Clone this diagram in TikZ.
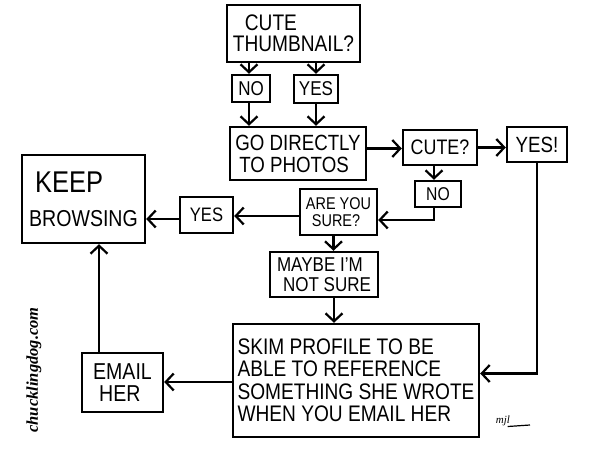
\documentclass[tikz,border=0pt]{standalone}
\usepackage{fontspec}
\setmainfont[FakeStretch=0.85]{Liberation Sans}
\newfontfamily\sigfont{Liberation Serif}
\usetikzlibrary{arrows.meta,calc}
\tikzset{
  box/.style={draw, line width=2.4pt, inner sep=0pt, align=left, anchor=center},
  arr/.style={line width=2.4pt, -{Straight Barb[length=8pt,width=17pt,line width=2.2pt]}}
}
\newcommand{\fs}[2]{\fontsize{#1}{#2}\selectfont}
\begin{document}
\begin{tikzpicture}[x=1pt,y=-1pt]
\useasboundingbox (0,0) rectangle (610,454);
\fill[white] (0,0) rectangle (610,454);
% boxes
\node[box, minimum width=133pt, minimum height=57pt, font=\fs{22.5}{21}] (thumb) at (293.5,33.5) {\hspace*{12pt}CUTE\\THUMBNAIL?};
\node[box, minimum width=38pt, minimum height=27pt, font=\fs{20}{20}] (no1) at (251,88.5) {NO};
\node[box, minimum width=44pt, minimum height=28pt, font=\fs{20}{20}] (yes1) at (316,89) {YES};
\node[box, minimum width=136pt, minimum height=53pt, font=\fs{22}{22}] (go) at (298,153.5) {GO DIRECTLY\\\hspace*{4pt}TO PHOTOS};
\node[box, minimum width=74pt, minimum height=35pt, font=\fs{21}{20}] (cute) at (440,147.5) {CUTE?};
\node[box, minimum width=60pt, minimum height=35pt, font=\fs{22}{20}] (yes2) at (537,144.5) {YES!};
\node[box, minimum width=46pt, minimum height=26pt, font=\fs{18.5}{17}] (no2) at (438,194) {NO};
\node[box, minimum width=77pt, minimum height=46pt, font=\fs{17}{17}] (sure) at (338.5,212) {ARE YOU\\\hspace*{6pt}SURE?};
\node[box, minimum width=53pt, minimum height=36pt, font=\fs{19.5}{18}] (yes3) at (206.5,215) {YES};
\node[box, minimum width=123pt, minimum height=88pt, font=\fs{23}{24}] (keep) at (83.5,199) {\hspace*{6pt}{\fs{30}{28}KEEP}\\[10pt]BROWSING};
\node[box, minimum width=108pt, minimum height=45pt, font=\fs{20}{20}] (maybe) at (324,274.5) {MAYBE I'M\\\hspace*{6pt}NOT SURE};
\node[box, minimum width=246pt, minimum height=113pt, font=\fs{22.5}{22.5}] (skim) at (356,380.5) {SKIM PROFILE TO BE\\ABLE TO REFERENCE\\SOMETHING SHE WROTE\\WHEN YOU EMAIL HER};
\node[box, minimum width=81pt, minimum height=59pt, font=\fs{23}{22}] (email) at (122.5,382.5) {EMAIL\\\hspace*{6pt}HER};
% side texts
\node[rotate=90] (site) at (34,370) {\sigfont\itshape\bfseries\fs{16.5}{16}chucklingdog.com};
\node (sig) at (503,421) {\sigfont\itshape\fs{11}{11}mjl};
\coordinate (sigend) at (530,425);
\draw[line width=1.2pt] ($(sig.south east)+(-6,-3)$) -- (sigend);
% helper coordinates
\coordinate (up) at (99,0);
\coordinate (sureIn) at ($(sure.east)+(0,8)$);
\coordinate (skimIn) at ($(skim.east)+(0,-7)$);
\coordinate (goOut) at ($(go.east)+(0,-5)$);
\coordinate (sureOut) at ($(sure.west)+(0,4)$);
\coordinate (yesOut) at ($(yes3.west)+(0,4)$);
\coordinate (skimOut) at ($(skim.west)+(0,1.5)$);
\coordinate (no1c) at ($(no1.north)+(-2,0)$);
\coordinate (no2c) at ($(no2.north)+(-4,0)$);
\coordinate (surec) at ($(sure.south)+(-5,0)$);
\coordinate (maybec) at ($(maybe.south)+(10,0)$);
% connectors
\draw[arr] (no1c |- thumb.south) -- (no1c);
\draw[arr] (yes1.north |- thumb.south) -- (yes1.north);
\draw[arr] (no1c |- no1.south) -- (no1c |- go.north);
\draw[arr] (yes1.south) -- (yes1.south |- go.north);
\draw[arr] (goOut) -- (goOut -| cute.west);
\draw[arr] (cute.east) -- (cute.east -| yes2.west);
\draw[arr] (no2c |- cute.south) -- (no2c);
\draw[arr] (no2c |- no2.south) |- (sureIn);
\draw[arr] (sureOut) -- (sureOut -| yes3.east);
\draw[arr] (yesOut) -- (yesOut -| keep.east);
\draw[arr] (surec) -- (surec |- maybe.north);
\draw[arr] (maybec) -- (maybec |- skim.north);
\draw[arr] (yes2.south) |- (skimIn);
\draw[arr] (skimOut) -- (skimOut -| email.east);
\draw[arr] (up |- email.north) -- (up |- keep.south);
\end{tikzpicture}
\end{document}
